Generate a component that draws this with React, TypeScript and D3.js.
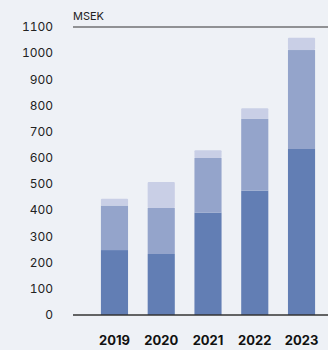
import React from "react";
import * as d3 from "d3";

const years = ["2019", "2020", "2021", "2022", "2023"];
const seriesA = [248, 233, 391, 475, 634];
const seriesB = [170, 176, 209, 275, 378];
const seriesC = [26, 99, 29, 40, 47];
const yTicks = [0, 100, 200, 300, 400, 500, 600, 700, 800, 900, 1000, 1100];
const unitLabel = "MSEK";

const W = 328;
const H = 350;
const colors = ["#627EB4", "#94A4CB", "#C9CFE6"];

export default function App() {
  const y = d3.scaleLinear().domain([0, 1100]).range([315, 27]);
  const x = d3
    .scaleBand<string>()
    .domain(years)
    .range([91.1, 324.9])
    .paddingInner(0.42)
    .paddingOuter(0.21);
  const stackData = years.map((yr, i) => ({ year: yr, a: seriesA[i], b: seriesB[i], c: seriesC[i] }));
  const stack = d3.stack<any>().keys(["a", "b", "c"])(stackData);
  const font = "Inter, 'Noto Sans', sans-serif";
  return (
    <div style={{ position: "absolute", left: 0, top: 0 }}>
      <svg width={W} height={H} style={{ display: "block" }}>
        <rect x={0} y={0} width={W} height={H} fill="#EEF1F6" />
        {yTicks.map((t) => (
          <text
            key={t}
            x={53}
            y={y(t)}
            dy="0.35em"
            textAnchor="end"
            fontFamily={font}
            fontSize={12}
            fill="#222"
            style={{ fontVariantNumeric: "tabular-nums" }}
          >
            {t}
          </text>
        ))}
        <text x={73} y={20} fontFamily={font} fontSize={11} fill="#222">
          {unitLabel}
        </text>
        <line x1={73} x2={W} y1={y(1100)} y2={y(1100)} stroke="#333" strokeWidth={1.2} />
        {stack.map((layer, li) =>
          layer.map((d, i) => (
            <rect
              key={`${li}-${i}`}
              x={x(years[i])}
              width={x.bandwidth()}
              y={y(d[1])}
              height={y(d[0]) - y(d[1])}
              fill={colors[li]}
              rx={li === 2 ? 1 : 0}
            />
          ))
        )}
        <line x1={73} x2={W} y1={y(0)} y2={y(0)} stroke="#333" strokeWidth={1.3} />
        {years.map((yr) => (
          <text
            key={yr}
            x={(x(yr) as number) + x.bandwidth() / 2}
            y={345}
            textAnchor="middle"
            fontFamily={font}
            fontSize={13}
            fontWeight={700}
            fill="#111"
          >
            {yr}
          </text>
        ))}
      </svg>
    </div>
  );
}
